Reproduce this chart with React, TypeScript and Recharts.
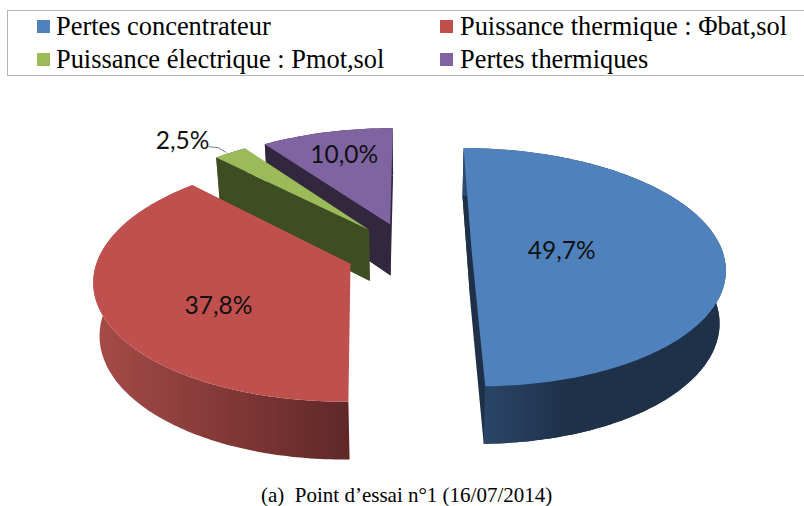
import { PieChart, Pie } from "recharts";

// drawn back to front, so the list runs counter-clockwise from 12 o'clock
const categories = ["Pertes thermiques", "Puissance électrique : Pmot,sol", "Puissance thermique : Φbat,sol", "Pertes concentrateur"];
const values = [10.0, 2.5, 37.8, 49.7];
const topColors = ["#8064a2", "#9bbb59", "#c0504d", "#4f81bd"];
const wallColors = [["#32273f", "#32273f"], ["#3f4d22", "#3f4d22"], ["#a54a47", "#5f2827"], ["#2d4b70", "#1e3149"]];
const legendRows = [
  ["Pertes concentrateur", "Puissance thermique : Φbat,sol"],
  ["Puissance électrique : Pmot,sol", "Pertes thermiques"],
];
const legendColors = [["#4f81bd", "#c0504d"], ["#9bbb59", "#8064a2"]];
const caption = "(a)\u00a0\u00a0Point d’essai n°1 (16/07/2014)";

// fake 3D: disc coordinates are projected with a bit of perspective
const EXPLODE = 0.25;
const TILT = 0.475;
const PERSPECTIVE = 0.13;
const DEPTH = 52;
// label spot for each slice, in disc units from the slice's apex
const labelSpots = [[-0.217, -0.7], [-0.89, -0.91], [-0.49, 0.32], [0.36, -0.02]];

const data = categories.map((name, i) => ({ name, value: values[i], fill: topColors[i], index: i }));

const rad = (deg: number) => (deg * Math.PI) / 180;

const project = (cx: number, cy: number, r: number, wx: number, wv: number, bottom = false) => {
  const s = 1 + PERSPECTIVE * wv;
  const a = r * TILT * wv * s;
  if (bottom) return [cx + r * wx * s * 0.98, cy + a * 1.04 + DEPTH];
  return [cx + r * wx * s, cy + a];
};

const toPath = (pts: number[][]) => "M" + pts.map((p) => p[0].toFixed(1) + "," + p[1].toFixed(1)).join("L") + "Z";

const apexOf = (midAngle: number) => {
  const t = rad(90 - midAngle);
  return [Math.sin(t) * EXPLODE, -Math.cos(t) * EXPLODE];
};

const Slice3D = (props: any) => {
  const { cx, cy, outerRadius: r, startAngle, endAngle, fill } = props;
  const i = props.index ?? props.payload?.index ?? 0;
  const first = 90 - endAngle;
  const last = 90 - startAngle;
  const [ax, av] = apexOf((startAngle + endAngle) / 2);
  const rim = (deg: number, bottom = false) =>
    project(cx, cy, r, ax + Math.sin(rad(deg)), av - Math.cos(rad(deg)), bottom);

  const top: number[][] = [];
  const low: number[][] = [];
  for (let d = first; d <= last; d += 1) {
    top.push(rim(d));
    low.push(rim(d, true));
  }
  top.push(rim(last));
  low.push(rim(last, true));

  const apexTop = project(cx, cy, r, ax, av);
  const apexLow = project(cx, cy, r, ax, av, true);
  const xs = low.map((p) => p[0]);
  const gradId = "wall" + i;
  const startFaces = -Math.sin(rad(first)) > -0.01;
  return (
    <g>
      <defs>
        <linearGradient id={gradId} gradientUnits="userSpaceOnUse" x1={Math.min(...xs)} x2={Math.max(...xs)} y1={0} y2={0}>
          <stop offset="0" stopColor={wallColors[i][0]} />
          <stop offset={i === 3 ? "0.4" : "1"} stopColor={wallColors[i][1]} />
          <stop offset="1" stopColor={wallColors[i][1]} />
        </linearGradient>
      </defs>
      {startFaces && <path d={toPath([apexLow, ...low])} fill={wallColors[i][1]} />}
      {startFaces && <path d={toPath([apexTop, top[0], low[0], apexLow])} fill={wallColors[i][1]} />}
      <path d={toPath([...top, ...[...low].reverse()])} fill={`url(#${gradId})`} />
      <path d={toPath([apexTop, ...top])} fill={fill} />
    </g>
  );
};

const renderLabel = (props: any) => {
  const { cx, cy, outerRadius: r, midAngle, index, value } = props;
  const [ax, av] = apexOf(midAngle);
  const [du, dv] = labelSpots[index];
  const [x, y] = project(cx, cy, r, ax + du, av + dv);
  const t = rad(90 - midAngle);
  const [ex, ey] = project(cx, cy, r, ax + Math.sin(t), av - Math.cos(t));
  return (
    <g>
      {index === 1 && (
        <polyline points={`${ex - 4},${ey} ${ex - 12},${ey - 5} ${ex - 22},${ey - 6}`} fill="none" stroke="#7f7f7f" strokeWidth={1} />
      )}
      <text x={x} y={y} textAnchor="middle" dominantBaseline="central" fontFamily="Lato" fontSize={24.5} fill="#111">
        {value.toFixed(1).replace(".", ",") + "%"}
      </text>
    </g>
  );
};

const LegendBox = () => (
  <div style={{ position: "absolute", left: 7, top: 10, width: 797, height: 66, border: "1.5px solid #b4b4b4", borderRight: "none", boxSizing: "border-box", fontFamily: "'Liberation Serif'", fontSize: 26.4, color: "#000" }}>
    {legendRows.map((row, r) =>
      row.map((label, c) => (
        <div key={label} style={{ position: "absolute", left: c === 0 ? 29 : 432, top: r === 0 ? 0 : 33, height: 33, whiteSpace: "nowrap" }}>
          <span style={{ position: "absolute", left: 0, top: 9, width: 13, height: 13, background: legendColors[r][c] }} />
          <span style={{ position: "absolute", left: c === 0 ? 19 : 20, top: 0, lineHeight: "31px" }}>{label}</span>
        </div>
      ))
    )}
  </div>
);

export default function App() {
  return (
    <div style={{ position: "absolute", left: 0, top: 0, width: 804, height: 506, background: "#fff", overflow: "hidden" }}>
      <PieChart width={804} height={506} margin={{ top: 0, right: 0, bottom: 0, left: 0 }}>
        <Pie
          data={data}
          dataKey="value"
          nameKey="name"
          cx={409}
          cy={252}
          outerRadius={251}
          startAngle={90}
          endAngle={450}
          stroke="none"
          shape={Slice3D}
          label={renderLabel}
          labelLine={false}
          isAnimationActive={false}
        />
      </PieChart>
      <LegendBox />
      <div style={{ position: "absolute", left: 261, top: 483, fontFamily: "'Liberation Serif'", fontSize: 21, color: "#000", whiteSpace: "nowrap" }}>
        {caption}
      </div>
    </div>
  );
}
